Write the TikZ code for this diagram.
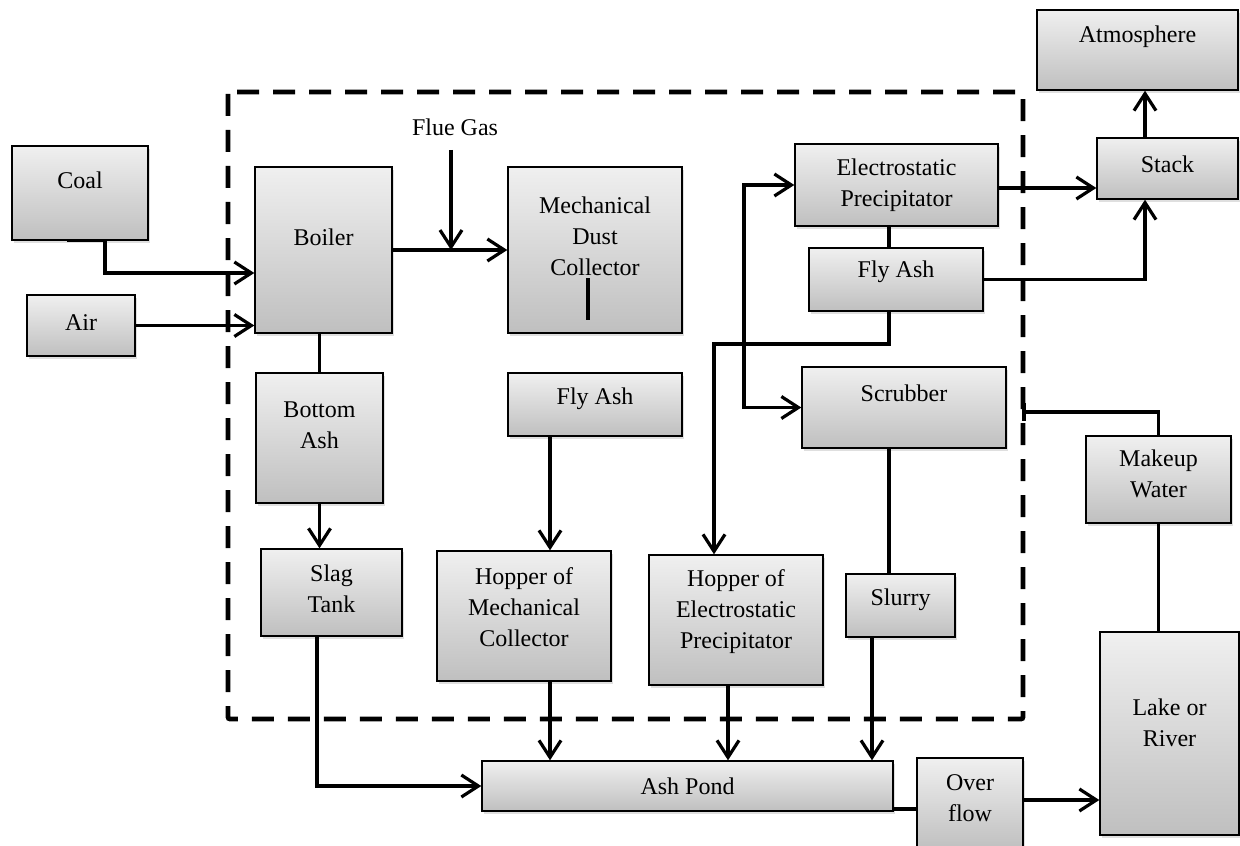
\documentclass[tikz,border=0pt]{standalone}
\usepackage{fontspec}
\setmainfont{Liberation Serif}
\usetikzlibrary{arrows.meta, shadows, calc}

\begin{document}
\begin{tikzpicture}[x=0.5pt, y=-0.5pt,
    box/.style={draw, line width=0.7pt, top color=gray!12, bottom color=gray!50,
      drop shadow={shadow xshift=1.2pt, shadow yshift=-1.5pt, opacity=0.25},
      align=center, inner sep=2pt, font=\fontsize{12}{15.5}\selectfont},
    lift/.style={text depth=#1pt},
    lbl/.style={font=\fontsize{12}{15}\selectfont, inner sep=1pt},
    link/.style={line width=1.6pt},
    flow/.style={link, -{Straight Barb[length=8.5pt, width=11pt]}},
    twoway/.style={link, {Straight Barb[length=8.5pt, width=11pt]}-{Straight Barb[length=8.5pt, width=11pt]}},
    border/.style={line width=2.4pt, dash pattern=on 11pt off 7pt}]
        \useasboundingbox (0,0) rectangle (1240,845);
        %confine impianto
        \draw[border, rounded corners=1pt] (228,92) rectangle (1023,719);
        %ingressi
        \node[box, minimum width=68pt, minimum height=47pt, lift=13] (coal) at (80,193) {Coal};
        \node[box, minimum width=54pt, minimum height=30.5pt, lift=3] (air) at (81,325.5) {Air};
        \node[box, minimum width=68.5pt, minimum height=83pt, lift=13] (boiler) at (323.5,250) {Boiler};
        \node[box, minimum width=87pt, minimum height=83pt, lift=14] (mdc) at (595,250) {Mechanical\\Dust\\Collector};
        %precipitatore e camino
        \node[box, minimum width=101.5pt, minimum height=41pt] (esp) at (896.5,185) {Electrostatic\\Precipitator};
        \node[box, minimum width=87pt, minimum height=31.5pt, lift=10] (flyR) at (896,279.5) {Fly Ash};
        \node[box, minimum width=70.5pt, minimum height=30.5pt, lift=4] (stack) at (1167.5,168.5) {Stack};
        \node[box, minimum width=100.5pt, minimum height=40pt, lift=15.5] (atm) at (1137.5,50) {Atmosphere};
        %ceneri
        \node[box, minimum width=63.5pt, minimum height=65pt, lift=13] (bottom) at (319.5,438) {Bottom\\Ash};
        \node[box, minimum width=87pt, minimum height=31.5pt, lift=8.5] (flyM) at (595,404.5) {Fly Ash};
        \node[box, minimum width=102pt, minimum height=40.5pt, lift=14] (scrub) at (904,407.5) {Scrubber};
        \node[box, minimum width=72.5pt, minimum height=43.5pt, lift=6] (makeup) at (1158.5,479.5) {Makeup\\Water};
        %tramogge
        \node[box, minimum width=70.5pt, minimum height=43.5pt, lift=4] (slag) at (331.5,592.5) {Slag\\Tank};
        \node[box, minimum width=87pt, minimum height=65pt, lift=9] (hopM) at (524,616) {Hopper of\\Mechanical\\Collector};
        \node[box, minimum width=87pt, minimum height=65pt, lift=10.5] (hopE) at (736,620) {Hopper of\\Electrostatic\\Precipitator};
        \node[box, minimum width=54.5pt, minimum height=31.5pt, lift=8.5] (slurry) at (900.5,605.5) {Slurry};
        %scarichi
        \node[box, minimum width=205.5pt, minimum height=25pt] (pond) at (687.5,786) {Ash Pond};
        \node[box, minimum width=53pt, minimum height=46pt, lift=6] (over) at (970,804) {Over\\flow};
        \node[box, minimum width=69.5pt, minimum height=101.5pt, lift=11] (lake) at (1169.5,733.5) {Lake or\\River};
        %coal e air
        \draw[flow] ([xshift=-6.5pt]coal.south) -- ([xshift=12.5pt]coal.south) |- ([yshift=-11.5pt]boiler.west);
        \draw[flow] (air.east) -- (air.east -| boiler.west);
        %flue gas
        \node[lbl] (flue) at (455,127) {Flue Gas};
        \coordinate (fg) at (451,150);
        \draw[flow] (fg) -- (fg |- boiler.east);
        \draw[flow] (boiler.east) -- (mdc.west);
        \draw[link] ([xshift=-3.5pt,yshift=-14pt]mdc.center) -- ++(0,42);
        %bottom ash
        \draw[link] (boiler.south -| bottom.north) -- (bottom.north);
        \draw[flow] (bottom.south) -- (bottom.south |- slag.north);
        \draw[flow] ([xshift=-7.25pt]slag.south) |- (pond.west);
        %verso ash pond
        \draw[flow] ([xshift=-22.5pt]flyM.south) coordinate (f1) -- (f1 |- hopM.north);
        \draw[flow] ([xshift=13pt]hopM.south) coordinate (h1) -- (h1 |- pond.north);
        \draw[flow] ([xshift=-4pt]hopE.south) coordinate (h2) -- (h2 |- pond.north);
        \draw[flow] ([xshift=-14.25pt]slurry.south) coordinate (h3) -- (h3 |- pond.north);
        %pond, overflow, lake
        \draw[link] ([yshift=-11.5pt]pond.east) coordinate (p1) -- (p1 -| over.west);
        \draw[flow] ([yshift=2pt]over.east) coordinate (o1) -- (o1 -| lake.west);
        \draw[link] (makeup.south) -- (makeup.south |- lake.north);
        \coordinate (mw) at (1024,412);
        \draw[link] (makeup.north) |- (mw) ++(0,-9) -- ++(0,18);
        %esp e stack
        \draw[flow] ([yshift=-1.5pt]esp.east) coordinate (e1) -- (e1 -| stack.west);
        \draw[flow] ([xshift=-11.25pt]stack.north) coordinate (s1) -- (s1 |- atm.south);
        \draw[flow] (flyR.east) -| ([xshift=-11.25pt]stack.south);
        \draw[link] ([xshift=-3.75pt]esp.south) coordinate (e2) -- (e2 |- flyR.north);
        \coordinate (bend) at (714,344);
        \draw[flow] ([xshift=-3.5pt]flyR.south) |- (bend) -- (bend |- hopE.north);
        \coordinate (split) at (744,300);
        \draw[twoway] (esp.west) -| (split) |- (scrub.west);
        %scrubber
        \draw[link] ([xshift=-7.5pt]scrub.south) coordinate (c1) -- (c1 |- slurry.north);
    \end{tikzpicture}
\end{document}
